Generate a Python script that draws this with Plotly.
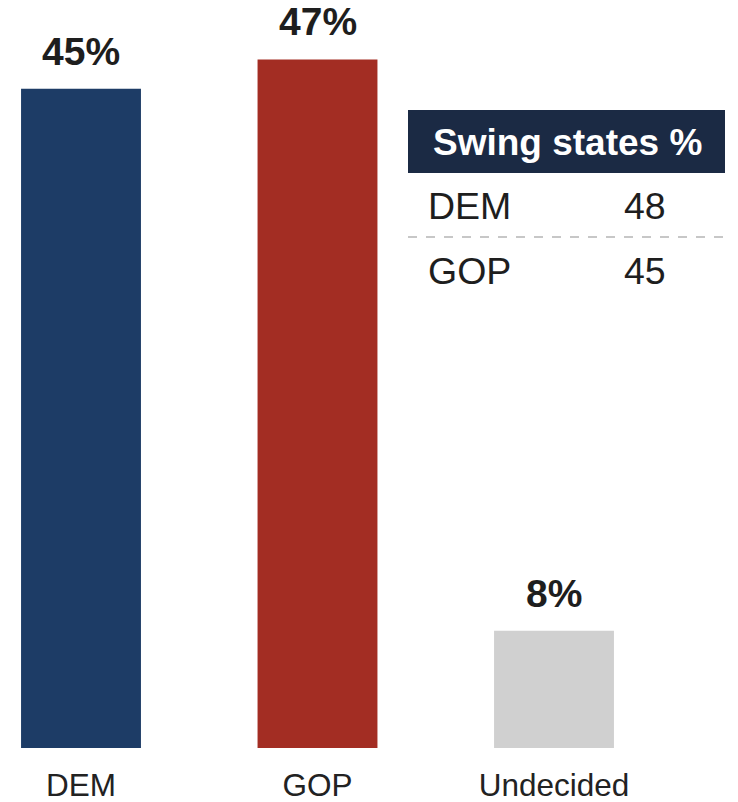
import plotly.graph_objects as go

categories = ["DEM", "GOP", "Undecided"]
values = [45, 47, 8]
bar_colors = ["#1d3c66", "#a32d23", "#d0d0d0"]

table_title = "Swing states %"
table_parties = ["DEM", "GOP"]
table_values = [48, 45]

FONT = "Liberation Sans, Arial, sans-serif"
OFF = 8            # page body margin offset
W, H = 738 - OFF, 802 - OFF
PLOT_H = 748 - OFF  # plot area height in px (t=0)

fig = go.Figure()
fig.add_trace(go.Bar(
    x=categories, y=values,
    marker=dict(color=bar_colors, line=dict(width=0)),
    hoverinfo="skip",
))

for c, v in zip(categories, values):
    fig.add_annotation(
        x=c, y=v, xref="x", yref="y",
        text=f"<b>{v}%</b>", showarrow=False,
        yanchor="bottom", yshift=14,
        font=dict(family=FONT, size=39, color="#1e1e1e"),
    )

def px_x(p):
    return (p - OFF) / W

def px_y(p):
    return 1 - (p - OFF) / PLOT_H

# table header
fig.add_shape(type="rect", xref="paper", yref="paper",
              x0=px_x(408), x1=px_x(725), y0=px_y(173), y1=px_y(110),
              fillcolor="#1b2a44", line=dict(width=0), layer="above")
fig.add_annotation(xref="paper", yref="paper", x=px_x(567), y=px_y(142),
                   text=f"<b>{table_title}</b>", showarrow=False,
                   xanchor="center", yanchor="middle",
                   font=dict(family=FONT, size=37, color="#ffffff"))
# separator
fig.add_shape(type="line", xref="paper", yref="paper",
              x0=px_x(408), x1=px_x(725), y0=px_y(237), y1=px_y(237),
              line=dict(color="#b5b5b5", width=1.5, dash="dash"))

row_y = [206, 271]
for party, val, ry in zip(table_parties, table_values, row_y):
    fig.add_annotation(xref="paper", yref="paper", x=px_x(426), y=px_y(ry),
                       text=party, showarrow=False, xanchor="left", yanchor="middle",
                       font=dict(family=FONT, size=37.5, color="#1e1e1e"))
    fig.add_annotation(xref="paper", yref="paper", x=px_x(668), y=px_y(ry),
                       text=str(val), showarrow=False, xanchor="right", yanchor="middle",
                       font=dict(family=FONT, size=37.5, color="#1e1e1e"))

fig.update_layout(
    width=W, height=H,
    margin=dict(l=0, r=0, t=0, b=H - PLOT_H, pad=0),
    paper_bgcolor="white", plot_bgcolor="white",
    bargap=0.493, showlegend=False,
)
fig.update_xaxes(range=[(OFF - 81) / 236.5, (738 - 81) / 236.5],
                 showgrid=False, zeroline=False,
                 showline=False, ticks="", fixedrange=True,
                 tickfont=dict(family=FONT, size=31.5, color="#222222"),
                 ticklabelstandoff=15)
fig.update_yaxes(range=[0, PLOT_H / 14.65], visible=False, fixedrange=True)

fig.write_html("out.html", config={"displayModeBar": False})
